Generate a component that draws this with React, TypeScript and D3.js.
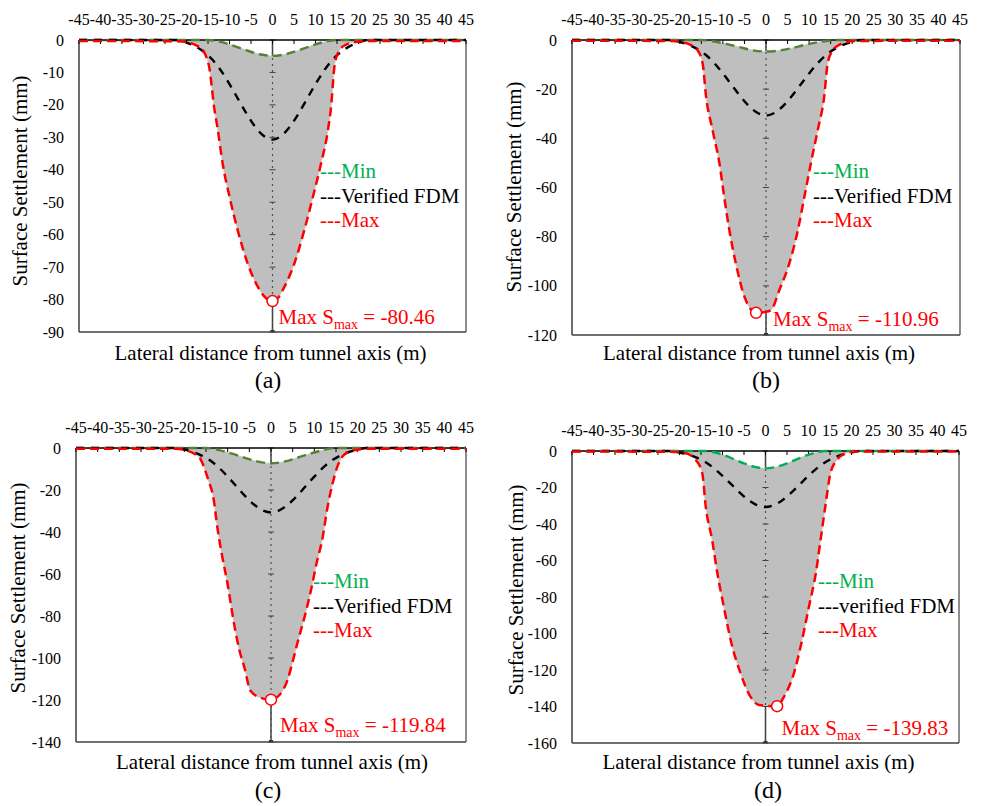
import React from 'react';
import * as d3 from 'd3';

type Pt = [number, number];

const FONT = '"Liberation Serif", "Times New Roman", Times, serif';

// Lateral positions of the top-axis ticks (m)
const xTicks: number[] = d3.range(-45, 46, 5);

// Verified FDM settlement trough, shared by all four cases (x in m, settlement in mm)
const fdmCurve: Pt[] = [
  [-45, 0], [-22, 0], [-20, -0.8], [-18, -1.9], [-16, -3.6], [-14, -6], [-12, -9.4],
  [-10, -13.6], [-8, -18.2], [-6, -22.8], [-4, -26.8], [-2, -29.6], [0, -30.7], [2, -29.6],
  [4, -26.8], [6, -22.8], [8, -18.2], [10, -13.6], [12, -9.4], [14, -6], [16, -3.6],
  [18, -1.9], [20, -0.8], [22, 0], [45, 0],
];

// Case (a)
const minA: Pt[] = [
  [-45, 0], [-15, 0], [-12, -0.6], [-9, -1.8], [-6, -3.2], [-3, -4.4], [0, -4.9],
  [3, -4.4], [6, -3.2], [9, -1.8], [12, -0.6], [15, 0], [45, 0],
];
const maxA: Pt[] = [
  [-45, -0.3], [-22, -0.4], [-19.5, -0.8], [-17.5, -1.8], [-16.2, -3.1], [-15.4, -5.2],
  [-14.7, -8.5], [-14.2, -13.5], [-13.7, -19.5], [-12.8, -27], [-11.6, -38], [-10, -48.3],
  [-8.1, -58.6], [-5.8, -68.8], [-3, -77], [-1.4, -79.7], [0, -80.46], [1.2, -79.6],
  [2.4, -77], [5.1, -68.8], [7.4, -58.6], [9.4, -48.3], [11.3, -38], [12.9, -27.7],
  [13.7, -19.5], [14.1, -12.5], [14.5, -7.2], [15.6, -3.1], [17, -1.5], [19, -0.7],
  [22, -0.3], [45, -0.3],
];
const peakA: Pt = [0, -80.46];

// Case (b)
const minB: Pt[] = [
  [-45, 0], [-15, 0], [-12, -0.6], [-9, -1.7], [-6, -3.0], [-3, -4.2], [0, -4.7],
  [3, -4.3], [6, -3.3], [9, -2.0], [12, -0.9], [15, -0.2], [16.6, 0], [45, 0],
];
const maxB: Pt[] = [
  [-45, -0.3], [-22, -0.4], [-19.5, -0.9], [-17.5, -2], [-15.9, -4.1], [-14.7, -9.5],
  [-13.9, -23], [-12.4, -36.6], [-10.8, -50.2], [-9.7, -63.8], [-8.5, -77.3], [-7, -90.9],
  [-5, -104.4], [-2.3, -110.96], [0, -110.6], [1.2, -109.8], [3.1, -101.7], [5.4, -90.9],
  [7.4, -77.3], [8.9, -63.8], [10.4, -50.2], [12, -36.6], [13.5, -23], [14.3, -9.5],
  [15.5, -4.1], [17, -2], [18.5, -1], [20.4, -0.4], [45, -0.3],
];
const peakB: Pt = [-2.3, -110.96];

// Case (c)
const minC: Pt[] = [
  [-45, 0], [-15, 0], [-12, -1], [-9, -2.7], [-6, -4.7], [-3, -6.5], [0, -7.3],
  [3, -6.5], [6, -4.7], [9, -2.7], [12, -1], [15, 0], [45, 0],
];
const maxC: Pt[] = [
  [-45, -0.3], [-22, -0.4], [-19.3, -1.3], [-17.5, -3], [-16.2, -5.5], [-15.5, -8.9],
  [-14.5, -15], [-13.2, -24.8], [-12.4, -37.5], [-11.4, -50], [-10, -65], [-8.5, -84],
  [-7.2, -97], [-6.2, -104], [-4.7, -115.7], [-2, -119.2], [0, -119.84], [2, -117.5],
  [3.8, -110.5], [4.9, -102.5], [6.2, -92], [7.8, -80], [9.3, -67], [10.5, -55],
  [11.9, -42.8], [13, -28.7], [14.2, -17], [15.3, -8.9], [16.5, -4], [18, -1.8],
  [20, -0.8], [22, -0.3], [45, -0.3],
];
const peakC: Pt = [0, -119.84];

// Case (d)
const minD: Pt[] = [
  [-45, 0], [-14, 0], [-12, -0.7], [-9.7, -2.2], [-7.5, -4.3], [-5, -6.8], [-2.5, -8.7],
  [0, -9.5], [2.5, -8.7], [5, -6.8], [7.5, -4.3], [9.7, -2.2], [12, -0.7], [14, 0], [45, 0],
];
const maxD: Pt[] = [
  [-45, -0.3], [-22, -0.4], [-19, -1], [-17.3, -2.5], [-16.2, -4.9], [-14.7, -12.2],
  [-13.9, -30.5], [-12.4, -48.8], [-11.2, -67], [-9.7, -85.3], [-8.1, -103.6],
  [-5.8, -121.8], [-3.5, -134.6], [-1.5, -139.2], [0, -139.6], [2.7, -139.83],
  [4.3, -134.6], [6.6, -121.8], [8.5, -103.6], [10.1, -85.3], [11.7, -67], [12.8, -48.8],
  [13.9, -30.5], [15.1, -12.2], [16.6, -4.9], [18, -2], [19.7, -0.6], [22, -0.3], [45, -0.3],
];
const peakD: Pt = [2.7, -139.83];

// Vertical axis extent and step of each case (mm)
const yLimits = [-90, -120, -140, -160];
const ySteps = [10, 20, 20, 20];
const captions = ['(a)', '(b)', '(c)', '(d)'];
const fdmLabels = ['---Verified FDM', '---Verified FDM', '---Verified FDM', '---verified FDM'];
const minLineColors = ['#548235', '#548235', '#548235', '#00b050'];

const maxSeries = [maxA, maxB, maxC, maxD];
const minSeries = [minA, minB, minC, minD];
const peaks = [peakA, peakB, peakC, peakD];

interface Layout {
  left: number; right: number; top: number; bottom: number;
  legendX: number; legendY: number;
  annDx: number; annDy: number;
  titleX: number; titleY: number;
  capX: number; capY: number;
  yTitleX: number; yTitleY: number;
}

const layouts: Layout[] = [
  { left: 79, right: 466, top: 40, bottom: 332, legendX: 320, legendY: 178, annDx: 6, annDy: 8, titleX: 270.5, titleY: 360, capX: 268, capY: 388, yTitleX: 27, yTitleY: 181 },
  { left: 572, right: 960, top: 40, bottom: 335, legendX: 813, legendY: 178, annDx: 7, annDy: 9, titleX: 759, titleY: 360, capX: 766, capY: 388, yTitleX: 521, yTitleY: 187 },
  { left: 76, right: 466, top: 448, bottom: 742, legendX: 313, legendY: 588, annDx: 9, annDy: 10, titleX: 272, titleY: 769, capX: 268, capY: 798, yTitleX: 25, yTitleY: 588 },
  { left: 572, right: 959, top: 451, bottom: 743, legendX: 818, legendY: 588, annDx: 16, annDy: 8, titleX: 758.5, titleY: 769, capX: 768, capY: 798, yTitleX: 523, yTitleY: 590 },
];

interface PanelProps {
  cfg: Layout;
  maxData: Pt[];
  minData: Pt[];
  peak: Pt;
  yLimit: number;
  yStep: number;
  caption: string;
  fdmLabel: string;
  minColor: string;
}

function Panel({ cfg, maxData, minData, peak, yLimit, yStep, caption, fdmLabel, minColor }: PanelProps) {
  const x = d3.scaleLinear().domain([-45, 45]).range([cfg.left, cfg.right]);
  const y = d3.scaleLinear().domain([yLimit, 0]).range([cfg.bottom, cfg.top]);
  const line = d3
    .line<Pt>()
    .x((d) => x(d[0]))
    .y((d) => y(d[1]))
    .curve(d3.curveMonotoneX);

  // Band enclosing every simulated trough: Max envelope forward, Min curve back
  const band = (line(maxData) || '') + 'L' + (line([...minData].reverse()) || '').slice(1) + 'Z';
  const yTicks = d3.range(0, yLimit - 0.001, -yStep);
  const x0 = x(0);
  const legendGap = 24.5;

  return (
    <g style={{ fontFamily: FONT }}>
      {/* vertical axis through the tunnel centre line */}
      <line x1={x0} x2={x0} y1={y(0)} y2={y(yLimit)} stroke="#404040" strokeWidth={1.5} />

      {/* envelope of simulated settlement troughs */}
      <path d={band} fill="#bfbfbf" stroke="#c8c8c8" strokeWidth={0.8} />

      <line x1={x0} x2={x0} y1={y(0)} y2={y(yLimit)} stroke="#505050" strokeWidth={1.2} strokeDasharray="2 4" />
      {yTicks.map((t) => (
        <line key={'c' + t} x1={x0 - 3} x2={x0 + 3} y1={y(t)} y2={y(t)} stroke="#404040" strokeWidth={1} />
      ))}
      <rect x={x0 - 2} y={y(yLimit) - 2} width={4} height={2} fill="#303030" />

      {/* frame */}
      <line x1={cfg.left} x2={cfg.left} y1={y(0)} y2={y(yLimit)} stroke="#202020" strokeWidth={1.3} />
      <line x1={cfg.right} x2={cfg.right} y1={y(0)} y2={y(yLimit)} stroke="#505050" strokeWidth={1.3} />
      <line x1={cfg.left} x2={cfg.right} y1={y(yLimit)} y2={y(yLimit)} stroke="#404040" strokeWidth={1.5} />

      {/* top distance axis */}
      <line x1={cfg.left} x2={cfg.right} y1={y(0)} y2={y(0)} stroke="#000" strokeWidth={1.3} />
      {xTicks.map((t) => (
        <g key={'x' + t}>
          <line x1={x(t)} x2={x(t)} y1={y(0)} y2={y(0) + 4} stroke="#000" strokeWidth={1} />
          <text x={x(t)} y={y(0) - 15.5} textAnchor="middle" fontSize={16} fill="#000">
            {t}
          </text>
        </g>
      ))}

      {/* settlement tick labels */}
      {yTicks.map((t) => (
        <text key={'y' + t} x={cfg.left - 15} y={y(t)} dy="0.35em" textAnchor="end" fontSize={16} fill="#000">
          {t}
        </text>
      ))}

      {/* trough curves */}
      <path d={line(minData) || ''} fill="none" stroke={minColor} strokeWidth={2.4} strokeDasharray="9 5" />
      <path d={line(fdmCurve) || ''} fill="none" stroke="#000" strokeWidth={2.4} strokeDasharray="8 7" />
      <path d={line(maxData) || ''} fill="none" stroke="#ff0000" strokeWidth={2.5} strokeDasharray="9 5" />

      {/* largest settlement */}
      <circle cx={x(peak[0])} cy={y(peak[1])} r={5.5} fill="#fff" stroke="#ff0000" strokeWidth={1.5} />
      <text x={x0 + cfg.annDx} y={cfg.bottom - cfg.annDy} fontSize={21} fill="#ff0000">
        Max S
        <tspan fontSize={14} dy={5}>max</tspan>
        <tspan dy={-5}>{' = ' + peak[1].toFixed(2)}</tspan>
      </text>

      {/* legend */}
      <text x={cfg.legendX} y={cfg.legendY} fontSize={21} fill="#00b050">---Min</text>
      <text x={cfg.legendX} y={cfg.legendY + legendGap} fontSize={21} fill="#000">{fdmLabel}</text>
      <text x={cfg.legendX} y={cfg.legendY + legendGap * 2} fontSize={21} fill="#ff0000">---Max</text>

      {/* axis titles and caption */}
      <text
        transform={`translate(${cfg.yTitleX},${cfg.yTitleY}) rotate(-90)`}
        textAnchor="middle"
        fontSize={21}
        fill="#000"
      >
        Surface Settlement (mm)
      </text>
      <text x={cfg.titleX} y={cfg.titleY} textAnchor="middle" fontSize={21} fill="#000">
        Lateral distance from tunnel axis (m)
      </text>
      <text x={cfg.capX} y={cfg.capY} textAnchor="middle" fontSize={24} fill="#000">
        {caption}
      </text>
    </g>
  );
}

export default function App() {
  return (
    <svg
      width={983}
      height={806}
      viewBox="0 0 983 806"
      style={{ position: 'absolute', left: 0, top: 0, background: '#fff', fontFamily: FONT }}
    >
      <rect x={0} y={0} width={983} height={806} fill="#fff" />
      {layouts.map((cfg, i) => (
        <Panel
          key={captions[i]}
          cfg={cfg}
          maxData={maxSeries[i]}
          minData={minSeries[i]}
          peak={peaks[i]}
          yLimit={yLimits[i]}
          yStep={ySteps[i]}
          caption={captions[i]}
          fdmLabel={fdmLabels[i]}
          minColor={minLineColors[i]}
        />
      ))}
    </svg>
  );
}
